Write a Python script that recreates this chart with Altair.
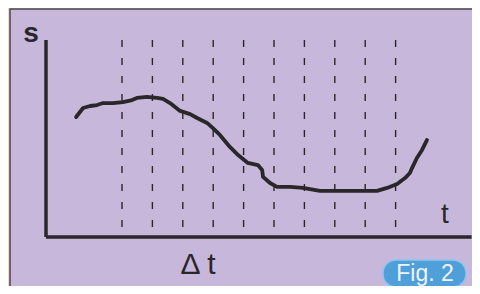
import altair as alt
import pandas as pd

# curve (t in grid units, s in % of axis height)
curve_t = [0.99, 1.22, 1.45, 1.68, 1.88, 2.20, 2.53, 2.83, 2.99, 3.32, 3.65, 3.85, 4.08, 4.41,
           4.74, 4.97, 5.30, 5.49, 5.72, 6.05, 6.32, 6.64, 6.97, 7.11, 7.14, 7.37, 7.60, 8.03,
           8.45, 9.01, 9.44, 10.00, 10.89, 11.22, 11.55, 11.81, 11.97, 12.04, 12.20, 12.37, 12.53]
curve_s = [60.9, 65.5, 66.5, 67.0, 68.0, 68.0, 68.5, 69.5, 70.6, 71.1, 70.6, 70.1, 68.0, 64.0,
           62.4, 60.4, 57.9, 55.3, 51.8, 45.7, 41.6, 37.6, 36.5, 34.0, 30.5, 27.4, 25.4, 25.4,
           24.9, 23.4, 23.4, 23.4, 23.4, 24.9, 26.9, 29.9, 32.5, 35.0, 40.1, 44.2, 49.2]
grid_t = [2.5, 3.5, 4.5, 5.5, 6.5, 7.5, 8.5, 9.5, 10.5, 11.5]
axis_top = 100
axis_end = 14.0

W, H = 464, 278
# 30.4 px per t unit, origin at chart x=38; 1.97 px per s unit, origin at chart y=229
t0 = -38 / 30.4
t1 = t0 + W / 30.4
s1 = 229 / 1.97
s0 = s1 - H / 1.97
xs = alt.Scale(domain=[t0, t1], range=[0, W], nice=False, zero=False)
ys = alt.Scale(domain=[s0, s1], range=[H, 0], nice=False, zero=False)

df_curve = pd.DataFrame({"t": curve_t, "s": curve_s, "i": range(len(curve_t))})
df_grid = pd.DataFrame({"t": grid_t, "s0": [0] * len(grid_t), "s1": [axis_top] * len(grid_t)})
df_one = pd.DataFrame({"t": [0], "s": [0], "t2": [axis_end], "s2": [axis_top]})

ink = "#2b2629"

panel = alt.Chart(df_one).mark_rect(fill="#c6b7db", stroke="#4a4550", strokeWidth=1.5).encode(
    x=alt.value(2), x2=alt.value(W + 6), y=alt.value(1), y2=alt.value(H + 6))

grid = alt.Chart(df_grid).mark_rule(color=ink, strokeWidth=1.4, strokeDash=[7, 11]).encode(
    x=alt.X("t:Q", scale=xs, axis=None),
    y=alt.Y("s1:Q", scale=ys, axis=None), y2="s0:Q")

yaxis = alt.Chart(df_one).mark_rule(color=ink, strokeWidth=3.5).encode(
    x=alt.X("t:Q", scale=xs, axis=None), y=alt.Y("s:Q", scale=ys, axis=None), y2="s2:Q")
xaxis = alt.Chart(df_one).mark_rule(color=ink, strokeWidth=3.5).encode(
    x=alt.X("t:Q", scale=xs, axis=None), x2="t2:Q", y=alt.Y("s:Q", scale=ys, axis=None))

line = alt.Chart(df_curve).mark_line(color=ink, strokeWidth=3.8, strokeJoin="round", strokeCap="round").encode(
    x=alt.X("t:Q", scale=xs, axis=None), y=alt.Y("s:Q", scale=ys, axis=None), order="i:Q")

font = "Liberation Sans"
lab_s = alt.Chart(df_one).mark_text(text="s", font=font, fontSize=28, fontWeight="bold", color=ink,
                                    align="center", baseline="alphabetic").encode(
    x=alt.value(23), y=alt.value(34))
lab_t = alt.Chart(df_one).mark_text(text="t", font=font, fontSize=28, color=ink,
                                    align="center", baseline="alphabetic").encode(
    x=alt.value(437), y=alt.value(215))
lab_dt = alt.Chart(df_one).mark_text(text="\u0394 t", font=font, fontSize=30, color=ink,
                                     align="center", baseline="alphabetic").encode(
    x=alt.value(190), y=alt.value(266))

pill = alt.Chart(df_one).mark_rect(fill="#4f9fd9", stroke="#8cc6ee", strokeWidth=1.5, cornerRadius=13).encode(
    x=alt.value(375), x2=alt.value(458), y=alt.value(252), y2=alt.value(279))
lab_fig = alt.Chart(df_one).mark_text(text="Fig. 2", font=font, fontSize=23, color="#eef4fb",
                                      align="center", baseline="middle").encode(
    x=alt.value(417), y=alt.value(266))

chart = alt.layer(panel, grid, yaxis, xaxis, line, lab_s, lab_t, lab_dt, pill, lab_fig).properties(
    width=W, height=H, background="#f2d9cb", padding=0, autosize="none"
).configure_view(stroke=None)

chart.save("out.html", embed_options={"renderer": "svg", "actions": False})
